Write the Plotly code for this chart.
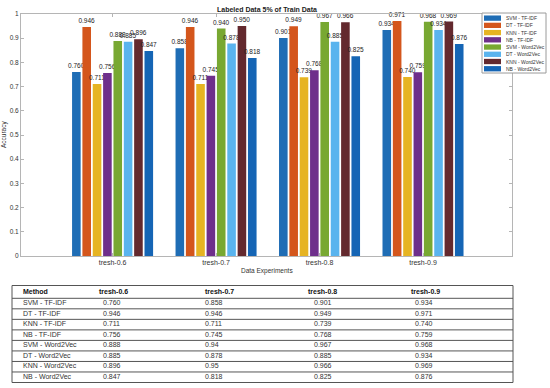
import plotly.graph_objects as go

categories = ["tresh-0.6", "tresh-0.7", "tresh-0.8", "tresh-0.9"]
methods = ["SVM - TF-IDF", "DT - TF-IDF", "KNN - TF-IDF", "NB - TF-IDF",
           "SVM - Word2Vec", "DT - Word2Vec", "KNN - Word2Vec", "NB - Word2Vec"]
svm_tfidf = [0.760, 0.858, 0.901, 0.934]
dt_tfidf = [0.946, 0.946, 0.949, 0.971]
knn_tfidf = [0.711, 0.711, 0.739, 0.740]
nb_tfidf = [0.756, 0.745, 0.768, 0.759]
svm_w2v = [0.888, 0.94, 0.967, 0.968]
dt_w2v = [0.885, 0.878, 0.885, 0.934]
knn_w2v = [0.896, 0.95, 0.966, 0.969]
nb_w2v = [0.847, 0.818, 0.825, 0.876]
series = [svm_tfidf, dt_tfidf, knn_tfidf, nb_tfidf, svm_w2v, dt_w2v, knn_w2v, nb_w2v]
# table text as shown in the reference
table_text = [
    ["0.760", "0.858", "0.901", "0.934"],
    ["0.946", "0.946", "0.949", "0.971"],
    ["0.711", "0.711", "0.739", "0.740"],
    ["0.756", "0.745", "0.768", "0.759"],
    ["0.888", "0.94", "0.967", "0.968"],
    ["0.885", "0.878", "0.885", "0.934"],
    ["0.896", "0.95", "0.966", "0.969"],
    ["0.847", "0.818", "0.825", "0.876"],
]
yticks = [0, 0.1, 0.2, 0.3, 0.4, 0.5, 0.6, 0.7, 0.8, 0.9, 1]
ytick_labels = ["0", "0.1", "0.2", "0.3", "0.4", "0.5", "0.6", "0.7", "0.8", "0.9", "1"]

colors = ["#1f6db5", "#d4561c", "#e6b422", "#6e2f8b", "#78a832", "#5ab4ee", "#63292e", "#1565b5"]

W, H = 550, 388
L, R, T, B = 21, 38, 10, 132
PW, PH = W - L - R, H - T - B
FONT = "Liberation Sans"

def px(xpix):
    return (xpix - L) / PW

def py(ypix):
    return (H - B - ypix) / PH

fig = go.Figure()
for name, vals, col in zip(methods, series, colors):
    fig.add_trace(go.Bar(
        x=categories, y=vals, name=name, marker=dict(color=col, line=dict(width=0)),
        texttemplate="%{y:.3f}", textposition="outside",
        textfont=dict(size=6.5, color="#222222", family=FONT),
        cliponaxis=False, showlegend=False,
    ))

fig.update_layout(
    width=W, height=H,
    margin=dict(l=L, r=R, t=T, b=B, pad=0),
    paper_bgcolor="white", plot_bgcolor="white",
    barmode="group", bargap=0.2, bargroupgap=0.17,
    font=dict(family=FONT, size=7, color="#333333"),
    showlegend=False,
)
fig.update_traces(constraintext="none")
fig.update_xaxes(
    range=[-0.885, 3.86], showline=True, linecolor="#b5b5b5", linewidth=1, mirror="ticks",
    ticks="inside", ticklen=3, tickcolor="#b5b5b5", showgrid=False,
    tickfont=dict(size=7, color="#333333", family=FONT),
)
fig.update_yaxes(
    range=[0, 1], tickvals=yticks, ticktext=ytick_labels,
    showline=True, linecolor="#b5b5b5", linewidth=1, mirror="ticks",
    ticks="inside", ticklen=3, tickcolor="#b5b5b5", showgrid=False, zeroline=False,
    tickfont=dict(size=6.5, color="#333333", family=FONT),
)

ann = []
shapes = []
# title and axis titles
ann.append(dict(text="<b>Labeled Data 5% of Train Data</b>", x=0.5, y=py(5), xref="paper", yref="paper",
                showarrow=False, xanchor="center", yanchor="middle", font=dict(size=7, color="#222222")))
ann.append(dict(text="Accuracy", x=px(4), y=py(133), xref="paper", yref="paper", textangle=-90,
                showarrow=False, xanchor="center", yanchor="middle", font=dict(size=6.5, color="#333333")))
ann.append(dict(text="Data Experiments", x=px(267), y=py(271), xref="paper", yref="paper",
                showarrow=False, xanchor="center", yanchor="middle", font=dict(size=6.5, color="#333333")))

# custom compact legend
lx0, lx1, ly0, ly1 = 482, 546, 9, 70
shapes.append(dict(type="rect", xref="paper", yref="paper", x0=px(lx0), x1=px(lx1), y0=py(ly0), y1=py(ly1),
                   line=dict(color="#9a9a9a", width=1), fillcolor="white", layer="above"))
for i, (name, col) in enumerate(zip(methods, colors)):
    cy = 14.2 + 7.35 * i
    shapes.append(dict(type="rect", xref="paper", yref="paper", x0=px(484), x1=px(501),
                       y0=py(cy - 2.7), y1=py(cy + 2.7), fillcolor=col, line=dict(width=0), layer="above"))
    ann.append(dict(text=name, x=px(503.5), y=py(cy), xref="paper", yref="paper", showarrow=False,
                    xanchor="left", yanchor="middle", font=dict(size=5, color="#333333")))

# table
tx0, tx1 = 12, 513
header_top, header_bot = 286, 299
row_h = 10.7
n_rows = len(methods)
table_bot = header_bot + row_h * n_rows
shapes.append(dict(type="rect", xref="paper", yref="paper", x0=px(tx0), x1=px(tx1),
                   y0=py(header_top), y1=py(table_bot), line=dict(color="#555555", width=1)))
for i in range(n_rows):
    yline = header_bot + row_h * i
    shapes.append(dict(type="line", xref="paper", yref="paper", x0=px(tx0), x1=px(tx1),
                       y0=py(yline), y1=py(yline), line=dict(color="#555555", width=1)))
head_x = [21, 97, 203, 306, 409]
val_x = [21, 101, 203, 312, 413]
headers = ["Method"] + categories
for hx, h in zip(head_x, headers):
    ann.append(dict(text="<b>" + h + "</b>", x=px(hx), y=py(292.5), xref="paper", yref="paper",
                    showarrow=False, xanchor="left", yanchor="middle", font=dict(size=7, color="#111111")))
for i, name in enumerate(methods):
    cy = header_bot + row_h * i + row_h / 2 - 0.8
    row = [name] + table_text[i]
    for vx, t in zip(val_x, row):
        ann.append(dict(text=t, x=px(vx), y=py(cy), xref="paper", yref="paper",
                        showarrow=False, xanchor="left", yanchor="middle", font=dict(size=7, color="#333333")))

fig.update_layout(annotations=ann, shapes=shapes)
fig.write_html("out.html", config={"displayModeBar": False},
               post_script="document.body.style.margin='0px';document.body.style.overflow='hidden';")
